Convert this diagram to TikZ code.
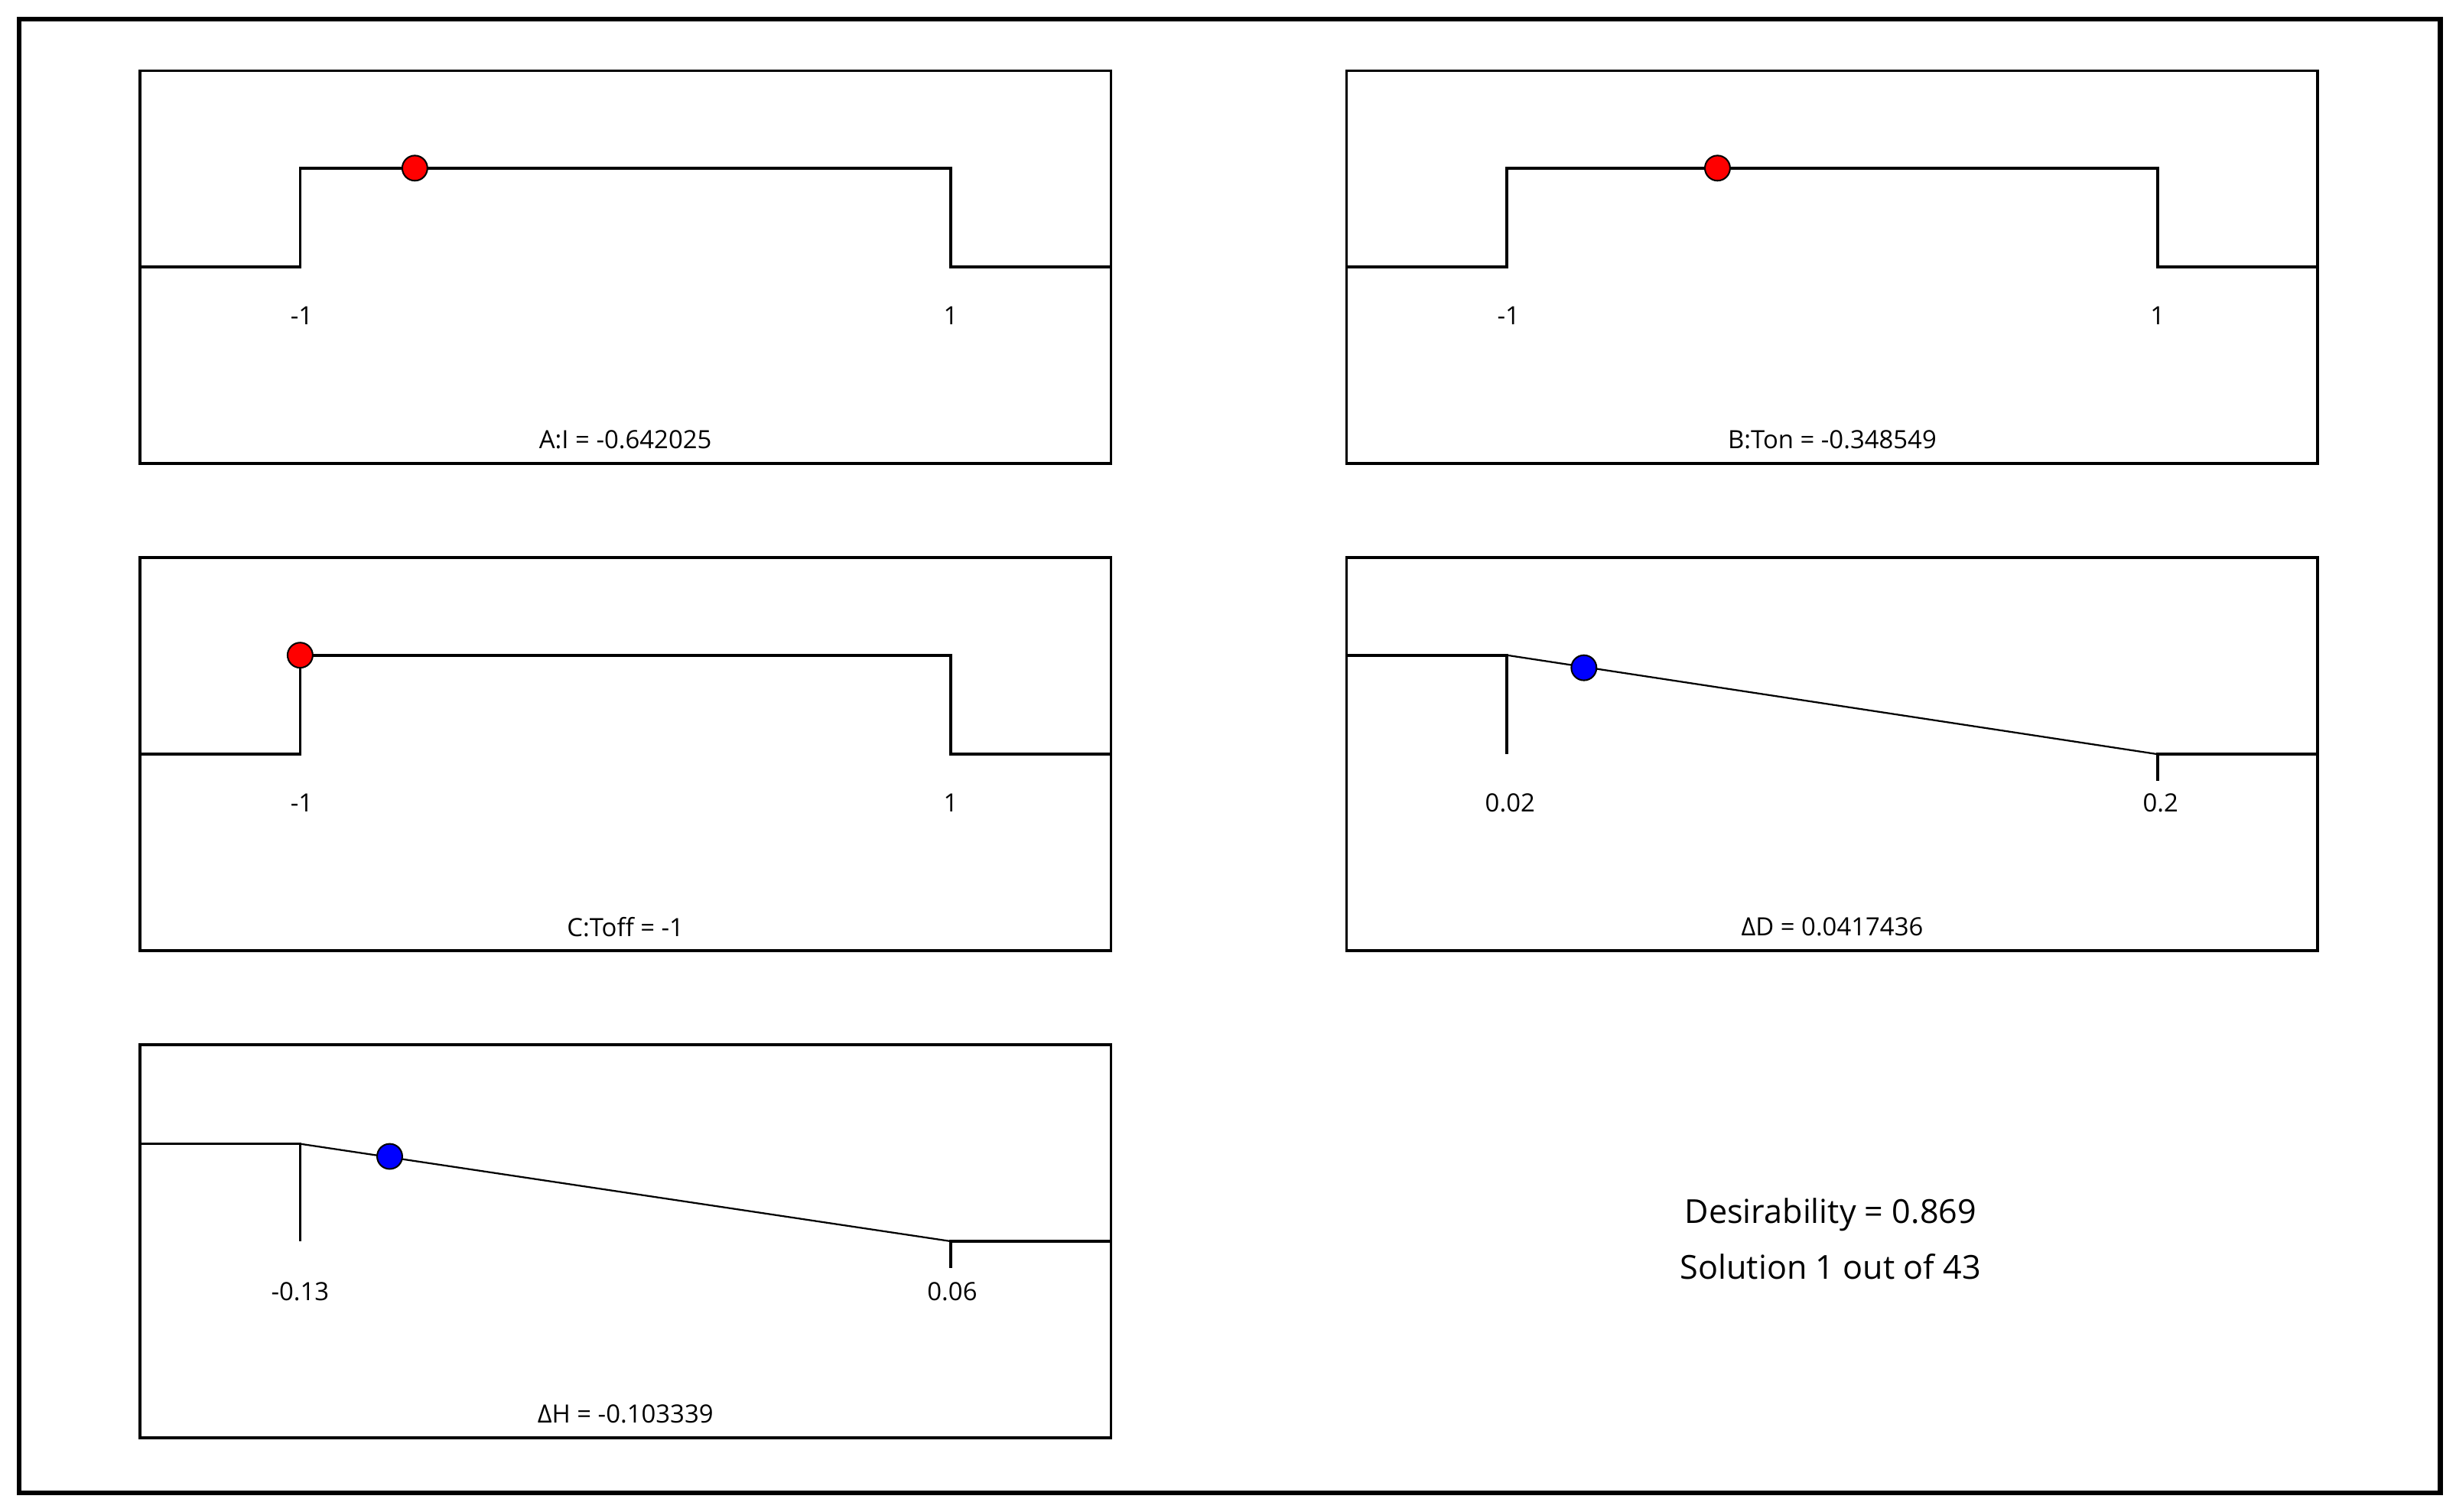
\documentclass[tikz,border=0pt]{standalone}
\usepackage{fontspec}
\setmainfont{Open Sans}
\begin{document}
\begin{tikzpicture}[x=1pt,y=-1pt,
  panel/.style={draw,line width=1.8pt},
  curve/.style={line width=1.8pt,line join=miter},
  slant/.style={line width=1.1pt},
  lab/.style={font=\fontsize{16}{19}\selectfont,inner sep=0pt},
  reddot/.style={circle,draw=black,line width=1pt,fill=red,minimum size=16pt,inner sep=0pt},
  bluedot/.style={circle,draw=black,line width=1pt,fill=blue,minimum size=16pt,inner sep=0pt}]
\useasboundingbox (0,0) rectangle (1563,962);
\draw[line width=3pt] (12,12) rectangle (1553,950);
% Panel 1
\draw[panel] (89,45) rectangle (707,295);
\draw[curve] (89,170) -- (191,170) -- (191,107) -- (605,107) -- (605,170) -- (707,170);
\node[reddot] (d1) at (264,107) {};
\node[lab] (l1a) at (192,201) {-1};
\node[lab] (l1b) at (605,201) {1};
\node[lab] (t1) at (398,280) {A:I = -0.642025};
% Panel 2
\draw[panel] (857,45) rectangle (1475,295);
\draw[curve] (857,170) -- (959,170) -- (959,107) -- (1373,107) -- (1373,170) -- (1475,170);
\node[reddot] (d2) at (1093,107) {};
\node[lab] (l2a) at (960,201) {-1};
\node[lab] (l2b) at (1373,201) {1};
\node[lab] (t2) at (1166,280) {B:Ton = -0.348549};
% Panel 3
\draw[panel] (89,355) rectangle (707,605);
\draw[curve] (89,480) -- (191,480) -- (191,417) -- (605,417) -- (605,480) -- (707,480);
\node[reddot] (d3) at (191,417) {};
\node[lab] (l3a) at (192,511) {-1};
\node[lab] (l3b) at (605,511) {1};
\node[lab] (t3) at (398,590) {C:Toff = -1};
% Panel 4
\draw[panel] (857,355) rectangle (1475,605);
\draw[curve] (857,417) -- (959,417) -- (959,480);
\draw[slant] (959,417) -- (1373,480);
\draw[curve] (1373,497) -- (1373,480) -- (1475,480);
\node[bluedot] (d4) at (1008,425) {};
\node[lab] (l4a) at (961,511) {0.02};
\node[lab] (l4b) at (1375,511) {0.2};
\node[lab] (t4) at (1166,590) {ΔD = 0.0417436};
% Panel 5
\draw[panel] (89,665) rectangle (707,915);
\draw[curve] (89,728) -- (191,728) -- (191,790);
\draw[slant] (191,728) -- (605,790);
\draw[curve] (605,807) -- (605,790) -- (707,790);
\node[bluedot] (d5) at (248,736) {};
\node[lab] (l5a) at (191,822) {-0.13};
\node[lab] (l5b) at (606,822) {0.06};
\node[lab] (t5) at (398,900) {ΔH = -0.103339};
% Text
\node[font=\fontsize{21}{25}\selectfont,inner sep=0pt] (des) at (1165,773) {Desirability = 0.869};
\node[font=\fontsize{21}{25}\selectfont,inner sep=0pt] (sol) at (1165,806) {Solution 1 out of 43};
\end{tikzpicture}
\end{document}
